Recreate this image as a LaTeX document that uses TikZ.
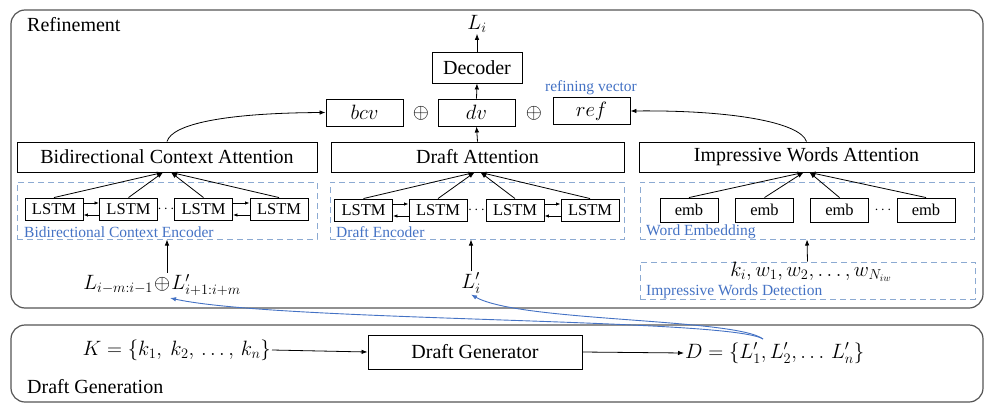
\documentclass[tikz,border=0pt]{standalone}
\usepackage{fontspec}
\setmainfont{Liberation Serif}
\usetikzlibrary{arrows.meta}
\definecolor{dashblue}{RGB}{140,170,210}
\definecolor{lblblue}{RGB}{68,114,196}
\definecolor{framegray}{RGB}{85,85,85}
\tikzset{
 box/.style={draw=black, line width=0.9pt, minimum height=30pt, inner sep=0pt, font=\fontsize{20}{24}\selectfont},
 vecbox/.style={draw=black, line width=0.9pt, minimum width=77pt, minimum height=27pt, inner sep=0pt, font=\fontsize{20}{24}\selectfont},
 smallbox/.style={draw=black, line width=0.9pt, minimum width=58pt, minimum height=22pt, inner sep=0pt, font=\fontsize{16.5}{20}\selectfont},
 dashbox/.style={draw=dashblue, dash pattern=on 6pt off 4pt, line width=1pt, inner sep=0pt},
 frame/.style={draw=framegray, line width=1.2pt, rounded corners=14pt, inner sep=0pt},
 blbl/.style={text=lblblue, font=\fontsize{15.5}{18}\selectfont, inner sep=0pt},
 txt/.style={font=\fontsize{20}{24}\selectfont, inner sep=1pt},
 dotstyle/.style={font=\fontsize{15}{18}\selectfont, inner sep=0pt},
 arr/.style={-{Latex[length=6pt,width=4.5pt]}, line width=0.8pt},
 sarr/.style={-{Latex[length=4.5pt,width=3.5pt]}, line width=0.8pt},
 barr/.style={-{Latex[length=6pt,width=4.5pt]}, line width=0.9pt, draw=lblblue},
}
\begin{document}
\begin{tikzpicture}[x=1pt,y=-1pt]
\useasboundingbox (0,0) rectangle (998,412);
% frames
\node[frame, minimum width=972pt, minimum height=298pt] (reffr) at (497,159) {};
\node[frame, minimum width=972pt, minimum height=77pt] (genfr) at (497,363.5) {};
\node[txt, anchor=west] (reflbl) at (26,25) {Refinement};
\node[txt, anchor=west] (genlbl) at (26,387) {Draft Generation};

% top
\node[txt] (li) at (477,24) {$L_i$};
\node[box, minimum width=90pt, minimum height=31pt] (dec) at (477,67.5) {Decoder};
\node[vecbox] (bcv) at (364.5,112.5) {$bcv$};
\node[vecbox] (dv) at (476.5,112.5) {$dv$};
\node[vecbox] (ref) at (591.5,111) {$ref$};
\node[txt] (op1) at (421,113) {$\oplus$};
\node[txt] (op2) at (534,113) {$\oplus$};
\node[blbl] (refvec) at (591,88) {refining vector};

% attention boxes
\node[box, minimum width=300pt] (bca) at (167,157) {Bidirectional Context Attention};
\node[box, minimum width=293pt] (da) at (477.5,157) {Draft Attention};
\node[box, minimum width=335pt] (iwa) at (806.5,157) {Impressive Words Attention};

% dashed boxes
\node[dashbox, minimum width=300pt, minimum height=57pt] (bce) at (167,210.5) {};
\node[dashbox, minimum width=294pt, minimum height=57pt] (de) at (477,210.5) {};
\node[dashbox, minimum width=334pt, minimum height=57pt] (we) at (807,210.5) {};
\node[dashbox, minimum width=335pt, minimum height=37pt] (iwd) at (807.5,280.5) {};
\node[blbl, anchor=west] (bcelbl) at (24,232) {Bidirectional Context Encoder};
\node[blbl, anchor=west] (delbl) at (336,232) {Draft Encoder};
\node[blbl, anchor=west] (welbl) at (646,232) {Word Embedding};
\node[blbl, anchor=west] (iwdlbl) at (646,292) {Impressive Words Detection};

% LSTMs (BCE)
\node[smallbox] (b1) at (54,209) {LSTM};
\node[smallbox] (b2) at (128.5,209) {LSTM};
\node[smallbox] (b3) at (203.5,209) {LSTM};
\node[smallbox] (b4) at (279,209) {LSTM};
\node[dotstyle] (bdots) at (166,209) {$\cdots$};
% LSTMs (DE)
\node[smallbox] (d1) at (363.5,210) {LSTM};
\node[smallbox] (d2) at (438,210) {LSTM};
\node[smallbox] (d3) at (515,210) {LSTM};
\node[smallbox] (d4) at (590,210) {LSTM};
\node[dotstyle] (ddots) at (476.5,210) {$\cdots$};
% embeddings
\node[smallbox, minimum height=24pt] (e1) at (689,210) {emb};
\node[smallbox, minimum height=24pt] (e2) at (764.5,210) {emb};
\node[smallbox, minimum height=24pt] (e3) at (839.5,210) {emb};
\node[smallbox, minimum height=24pt] (e4) at (926,210) {emb};
\node[dotstyle] (edots) at (883,210) {$\cdots$};

% inputs
\node[txt] (lctx) at (162,285) {$L_{i-m:i-1}\!\oplus\! L'_{i+1:i+m}$};
\node[txt] (ldr) at (471,283) {$L'_i$};
\node[txt, inner sep=0pt] (kw) at (811,272) {$k_i, w_1, w_2, \ldots, w_{N_{iw}}$};
\coordinate (opin) at (170,298);

% draft generation
\node[txt, anchor=east] (kset) at (272,350) {$K=\{k_1,\ k_2,\, \ldots,\, k_n\}$};
\node[box, minimum width=214pt, minimum height=34pt] (dg) at (475,352) {Draft Generator};
\node[txt, anchor=west] (dset) at (684,353) {$D=\{L'_1, L'_2, \ldots\, L'_n\}$};
\coordinate (dsrc) at (763,339);

% arrows top
\draw[arr] (dec.north) -- (li.south);
\draw[arr] (dv.north) -- (dec.south);
\draw[arr] (da.north) -- (dv.south);
\draw[arr] (bca.north) .. controls (172,124) and (225,113) .. (bcv.west);
\draw[arr] (iwa.north) .. controls (800,122) and (730,110) .. (ref.east);

% LSTM links
\foreach \a/\b in {b1/b2,b3/b4,d1/d2,d3/d4}{
  \draw[sarr] ([yshift=6pt]\a.east) -- ([yshift=6pt]\b.west);
  \draw[sarr] ([yshift=-6pt]\b.west) -- ([yshift=-6pt]\a.east);
}
% converging arrows
\draw[arr] (b1.north) -- ([xshift=-4pt]bca.south);
\draw[arr] (b2.north) -- ([xshift=-4pt]bca.south);
\draw[arr] (b3.north) -- ([xshift=4pt]bca.south);
\draw[arr] (b4.north) -- ([xshift=4pt]bca.south);
\draw[arr] (d1.north) -- ([xshift=-3pt]da.south);
\draw[arr] (d2.north) -- ([xshift=-3pt]da.south);
\draw[arr] (d3.north) -- ([xshift=3pt]da.south);
\draw[arr] (d4.north) -- ([xshift=3pt]da.south);
\draw[arr] (e1.north) -- ([xshift=-3pt]iwa.south);
\draw[arr] (e2.north) -- ([xshift=-3pt]iwa.south);
\draw[arr] (e3.north) -- ([xshift=3pt]iwa.south);
\draw[arr] (e4.north) -- ([xshift=3pt]iwa.south);

% input arrows
\draw[arr] (bce.south |- lctx.north) -- (bce.south);
\draw[arr] (ldr.north) -- (ldr.north |- de.south);
\draw[arr] (iwd.north) -- (we.south);

% generation arrows
\draw[arr] (kset.east) -- (dg.west);
\draw[arr] (dg.east) -- (dset.west);
\draw[barr] (dsrc) .. controls (730,318) and (280,322) .. (opin);
\draw[barr] (dsrc) .. controls (735,318) and (520,322) .. (ldr.south);
\end{tikzpicture}
\end{document}
